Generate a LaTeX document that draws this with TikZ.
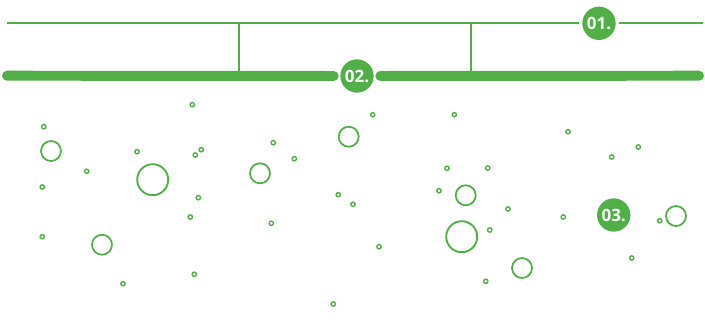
\documentclass[tikz,border=0pt]{standalone}
\usepackage{fontspec}
\setsansfont{Open Sans}
\definecolor{mygreen}{HTML}{52AE47}
\usetikzlibrary{positioning}
\tikzset{
	dotnode/.style={
			circle,
			draw=mygreen,
			line width=1.2pt,
			minimum size=0.13cm,
			inner sep=0pt
		},
	midnode/.style={
			circle,
			draw=mygreen,
			line width=1.5pt,
			minimum size=0.6cm,
			inner sep=0pt
		},
	bignode/.style={
			circle,
			draw=mygreen,
			line width=1.6pt,
			minimum size=0.93cm,
			inner sep=0pt
		},
	labelnode/.style={
			circle,
			fill=mygreen,
			text=white,
			minimum size=1cm,
			inner sep=0pt,
			outer sep=0.09cm,
			font=\sffamily\bfseries\fontsize{14.5}{17}\selectfont
		},
	thinline/.style={
			draw=mygreen,
			line width=1.7pt
		},
	thickline/.style={
			draw=mygreen,
			line width=8.5pt,
			line cap=round
		}
}
\begin{document}
\begin{tikzpicture}[x=0.03cm, y=-0.03cm]
\useasboundingbox (0,0) rectangle (705,323);

% the two bars and their links
\coordinate (tL) at (7,23.3);
\coordinate (tR) at (703,23.3);
\coordinate (bL) at (7,75.7);
\coordinate (bR) at (699,75.7);
\coordinate (vAtop) at (239,23.3);
\coordinate (vAbot) at (239,75.7);
\coordinate (vBtop) at (471,23.3);
\coordinate (vBbot) at (471,75.7);
\node[labelnode] (n01) at (599,23.3) {01.};
\node[labelnode, outer sep=0.2cm] (n02) at (357,76) {02.};

\draw[thinline] (tL) -- (n01) -- (tR);
\draw[thinline] (vAtop) -- (vAbot);
\draw[thinline] (vBtop) -- (vBbot);
\draw[thickline] (bL) -- (n02) -- (bR);

% bubbles
\node[dotnode] (d1) at (192.3,104.7) {};
\node[dotnode] (d2) at (43.7,126.7) {};
\node[dotnode] (d3) at (137,151.7) {};
\node[dotnode] (d4) at (201.3,149.7) {};
\node[dotnode] (d5) at (195.3,155) {};
\node[dotnode] (d6) at (86.7,171.3) {};
\node[dotnode] (d7) at (42.3,187) {};
\node[dotnode] (d8) at (198.3,197.7) {};
\node[dotnode] (d9) at (190.3,217) {};
\node[dotnode] (d10) at (42.3,236.7) {};
\node[dotnode] (d11) at (194.3,274.3) {};
\node[dotnode] (d12) at (123,283.7) {};
\node[dotnode] (d13) at (372.7,114.7) {};
\node[dotnode] (d14) at (454.3,114.7) {};
\node[dotnode] (d15) at (273.3,142.7) {};
\node[dotnode] (d16) at (294.3,158.7) {};
\node[dotnode] (d17) at (447,168.3) {};
\node[dotnode] (d18) at (439,190.7) {};
\node[dotnode] (d19) at (338.3,194.7) {};
\node[dotnode] (d20) at (353,204.3) {};
\node[dotnode] (d21) at (271.3,223.3) {};
\node[dotnode] (d22) at (379,246.7) {};
\node[dotnode] (d23) at (333.3,304) {};
\node[dotnode] (d24) at (568,131.7) {};
\node[dotnode] (d25) at (638.3,147) {};
\node[dotnode] (d26) at (611.7,157) {};
\node[dotnode] (d27) at (487.7,168) {};
\node[dotnode] (d28) at (508,209) {};
\node[dotnode] (d29) at (563.3,217) {};
\node[dotnode] (d30) at (659.7,220.7) {};
\node[dotnode] (d31) at (489.7,230) {};
\node[dotnode] (d32) at (631.7,258) {};
\node[dotnode] (d33) at (485.7,281.3) {};

\node[midnode] (m1) at (51,151) {};
\node[midnode] (m2) at (102,244.7) {};
\node[midnode] (m3) at (348.7,136.7) {};
\node[midnode] (m4) at (260,173.3) {};
\node[midnode] (m5) at (465.7,195.3) {};
\node[midnode] (m6) at (676,216) {};
\node[midnode] (m7) at (522,268) {};

\node[bignode] (b1) at (152.7,179.7) {};
\node[bignode] (b2) at (461.7,236.7) {};

\node[labelnode] (n03) at (613.7,215) {03.};

\end{tikzpicture}
\end{document}
